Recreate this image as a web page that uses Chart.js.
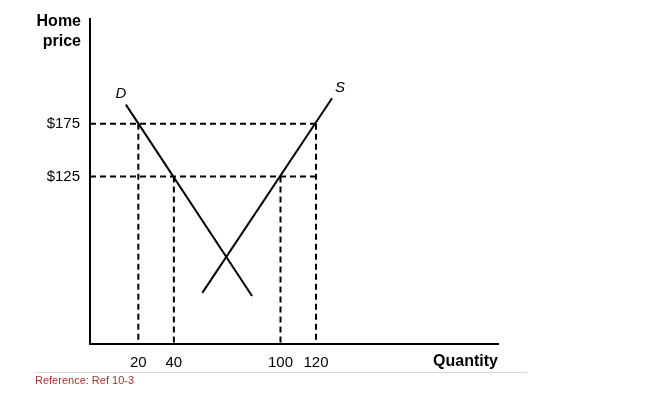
<!DOCTYPE html>
<html>
<head>
<meta charset="utf-8">
<script src="https://cdn.jsdelivr.net/npm/chart.js@4.4.1/dist/chart.umd.min.js"></script>
<style>
 body { margin: 0; background: #fff; }
 #wrap { width: 650px; height: 396px; position: relative; }
</style>
</head>
<body>
<div id="wrap"><canvas id="canvasMercado"></canvas></div>
<script>
//Datos
const ticksCantidad = [20, 40, 100, 120];
const ticksPrecio = [125, 175];
const etiquetasPrecio = ["$125", "$175"];

//Curva de demanda (D) y oferta (S)
const demandaQ = [13, 84];
const demandaP = [193, 12];
const ofertaQ = [56, 129];
const ofertaP = [15, 199];

//Limites de los ejes
const minQ = -7.2, maxQ = 222.4;
const minP = -33.4, maxP = 274;

const fuente = "'Liberation Sans', Arial, sans-serif";

//Funcion que arma una linea punteada
function lineaPunteada(puntos) {
 return {
  data: puntos,
  borderColor: '#000',
  borderWidth: 2,
  borderDash: [6, 4],
  pointRadius: 0,
  fill: false,
  tension: 0
 };
}

//Funcion que arma una curva solida
function curva(qs, ps) {
 let puntos = [];
 for (let i = 0; i < qs.length; i++) {
  puntos.push({x: qs[i], y: ps[i]});
 }
 return {
  data: puntos,
  borderColor: '#000',
  borderWidth: 2,
  pointRadius: 0,
  fill: false,
  tension: 0
 };
}

let datasets = [];
//Lineas horizontales desde el eje hasta q=120
for (let i = 0; i < ticksPrecio.length; i++) {
 datasets.push(lineaPunteada([{x: minQ, y: ticksPrecio[i]}, {x: 120, y: ticksPrecio[i]}]));
}
//Lineas verticales desde el precio hasta el eje
const preciosVerticales = [175, 125, 125, 175];
for (let i = 0; i < ticksCantidad.length; i++) {
 datasets.push(lineaPunteada([{x: ticksCantidad[i], y: preciosVerticales[i]}, {x: ticksCantidad[i], y: minP}]));
}
datasets.push(curva(demandaQ, demandaP));
datasets.push(curva(ofertaQ, ofertaP));

//Plugin para los textos extra
const textosExtra = {
 id: 'textosExtra',
 afterDraw(chart) {
  const ctx = chart.ctx;
  const sx = chart.scales.x, sy = chart.scales.y;
  ctx.save();
  ctx.fillStyle = '#000';
  ctx.textBaseline = 'middle';
  ctx.font = "bold 16px " + fuente;
  ctx.textAlign = 'right';
  ctx.fillText("Home", 81, 22);
  ctx.fillText("price", 81, 42);
  ctx.fillText("Quantity", 498, 362);

  ctx.font = "italic 15px " + fuente;
  ctx.textAlign = 'center';
  ctx.fillText("D", sx.getPixelForValue(demandaQ[0]) - 5, sy.getPixelForValue(demandaP[0]) - 11);
  ctx.fillText("S", sx.getPixelForValue(ofertaQ[1]) + 8, sy.getPixelForValue(ofertaP[1]) - 10);

  //Linea separadora y referencia
  ctx.strokeStyle = '#d8d8d8';
  ctx.lineWidth = 1;
  ctx.beginPath();
  ctx.moveTo(35, 372.5);
  ctx.lineTo(527, 372.5);
  ctx.stroke();
  ctx.fillStyle = '#a83232';
  ctx.font = "11px " + fuente;
  ctx.textAlign = 'left';
  ctx.fillText("Reference: Ref 10-3", 35, 381);
  ctx.restore();
 }
};

var canvas = document.getElementById("canvasMercado");
let grafico = new Chart(canvas, {
 type: 'line',
 data: { datasets: datasets },
 options: {
  responsive: true,
  maintainAspectRatio: false,
  animation: false,
  layout: { padding: { left: 0, top: 13, right: 152, bottom: 22 } },
  plugins: { legend: { display: false }, tooltip: { enabled: false } },
  scales: {
   x: {
    type: 'linear',
    min: minQ,
    max: maxQ,
    grid: { display: false, drawTicks: false },
    border: { display: true, color: '#000', width: 2 },
    afterBuildTicks: (scale) => { scale.ticks = ticksCantidad.map(v => ({value: v})); },
    afterFit: (scale) => { scale.height = 30; },
    ticks: {
     color: '#000',
     padding: 10,
     maxRotation: 0,
     autoSkip: false,
     font: { family: fuente, size: 15 }
    }
   },
   y: {
    type: 'linear',
    min: minP,
    max: maxP,
    grid: { display: false, drawTicks: false },
    border: { display: true, color: '#000', width: 2 },
    afterBuildTicks: (scale) => { scale.ticks = ticksPrecio.map(v => ({value: v})); },
    afterFit: (scale) => { scale.width = 90; },
    ticks: {
     color: '#000',
     padding: 10,
     autoSkip: false,
     font: { family: fuente, size: 15 },
     callback: (valor) => etiquetasPrecio[ticksPrecio.indexOf(valor)]
    }
   }
  }
 },
 plugins: [textosExtra]
});
</script>
</body>
</html>
